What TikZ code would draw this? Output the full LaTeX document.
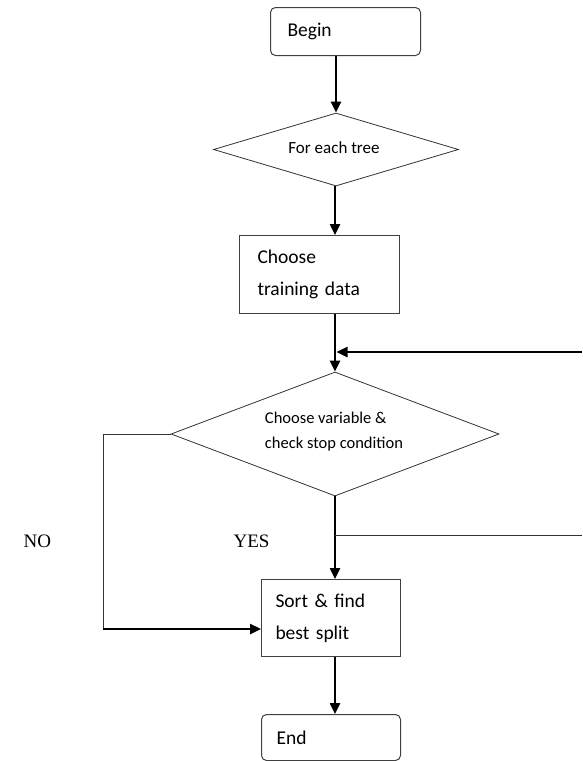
\documentclass[tikz,border=0pt]{standalone}
\usepackage{fontspec}
\setmainfont{Carlito}
\newfontfamily\labelfont{Liberation Serif}
\usetikzlibrary{shapes.geometric,arrows.meta}
\begin{document}
\begin{tikzpicture}[x=1pt,y=-1pt,
  boxnode/.style={draw=black!75,line width=1pt,rectangle,anchor=north west,
    inner ysep=0pt,align=left,font=\fontsize{19.5}{32}\selectfont},
  decision/.style={draw=black!80,line width=0.8pt,diamond,inner sep=0pt},
  flowarrow/.style={line width=2.4pt,-{Triangle[length=11pt,width=10pt]}},
  thinline/.style={line width=0.9pt,draw=black!80},
  branchlabel/.style={font=\labelfont\fontsize{19}{20}\selectfont,anchor=west}
]
\useasboundingbox (0,0) rectangle (582,761);

\node[boxnode,rounded corners=5pt,inner xsep=17pt,text width=116pt,minimum height=48pt] (begin) at (270,7) {Begin};
\node[decision,minimum width=245pt,minimum height=73pt] (d1) at (336,149.5) {};
\node[font=\fontsize{17}{18}\selectfont] (d1text) at (334,148) {For each tree};
\node[boxnode,inner xsep=18pt,text width=124pt,minimum height=78pt] (choose) at (239,235) {Choose\\training data};
\node[decision,minimum width=328pt,minimum height=124pt] (d2) at (335,434) {};
\node[align=left,font=\fontsize{16.5}{25}\selectfont] (d2text) at (334,432) {Choose variable \&\\check stop condition};
\node[boxnode,inner xsep=14pt,text width=111pt,minimum height=77pt] (sort) at (261,579) {Sort \& find\\best split};
\node[boxnode,rounded corners=5pt,inner xsep=15pt,text width=109pt,minimum height=46pt] (end) at (261,714) {End};

\node[branchlabel] (no) at (20,541) {NO};
\node[branchlabel] (yes) at (230,541) {YES};

\coordinate (loopR) at (582,352);
\coordinate (yesR) at (582,535);
\coordinate (noL) at (103,434);
\coordinate (noB) at (103,629);

\draw[flowarrow] (d1.north |- begin.south) -- (d1.north);
\draw[flowarrow] (d2.north |- d1.south) -- (d2.north |- choose.north);
\draw[flowarrow] (d2.north |- choose.south) -- (d2.north);
\draw[flowarrow] (loopR) -- ([xshift=1.5pt]d2.north |- loopR);
\draw[flowarrow] (d2.south) -- (d2.south |- sort.north);
\draw[thinline] (d2.south |- yesR) -- (yesR);
\draw[thinline] (d2.west) -- (noL) -- (noB);
\draw[flowarrow] (noB) -- (sort.west |- noB);
\draw[flowarrow] (d2.south |- sort.south) -- (d2.south |- end.north);
\end{tikzpicture}
\end{document}
